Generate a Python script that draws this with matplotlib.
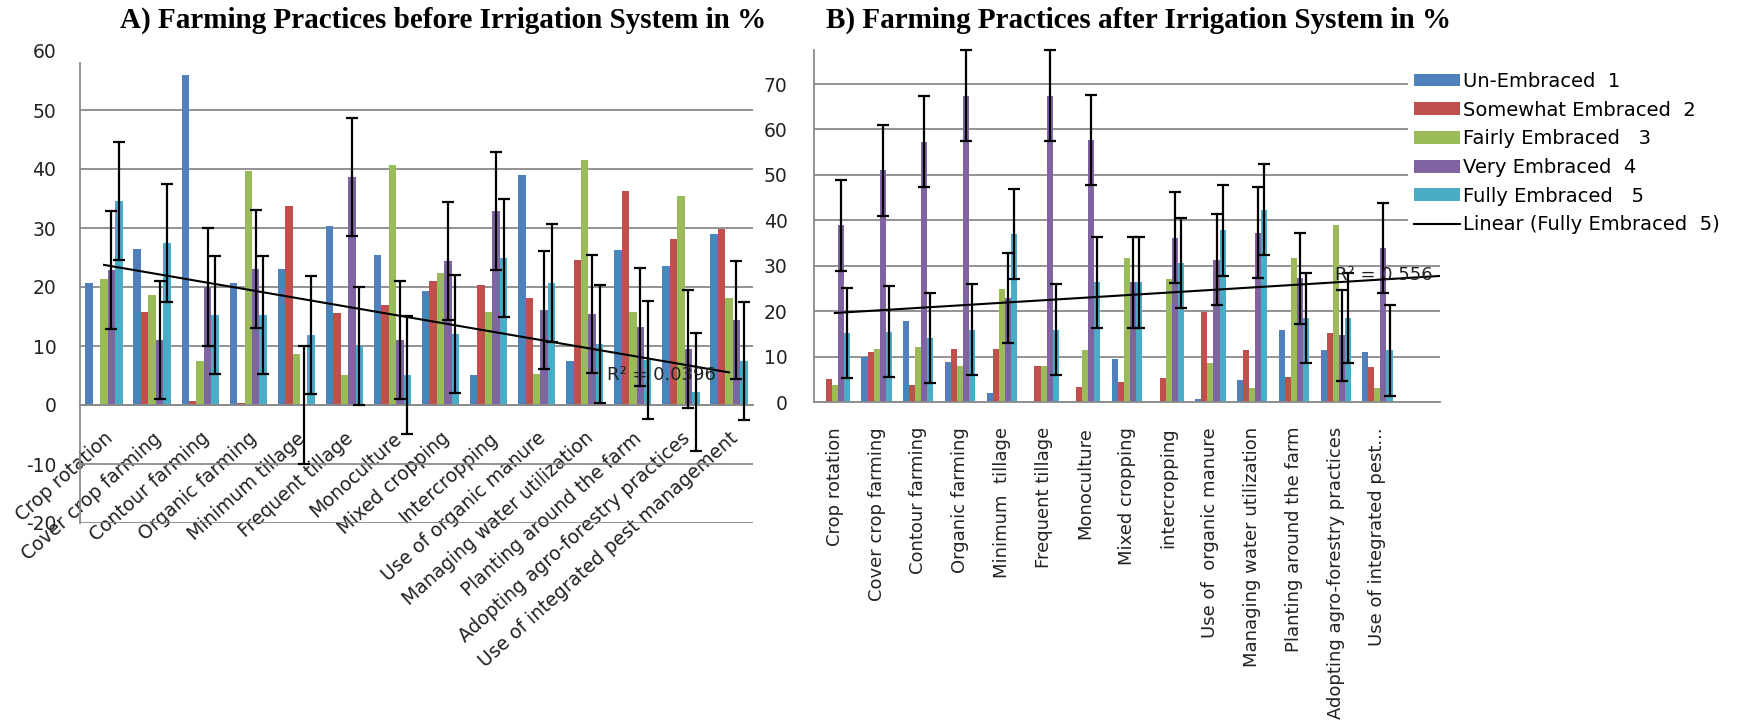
import numpy as np
import matplotlib
matplotlib.use("Agg")
import matplotlib.pyplot as plt
from matplotlib.patches import Patch
from matplotlib.lines import Line2D

# ---------------- data ----------------
cats_before = ["Crop rotation", "Cover crop farming", "Contour farming", "Organic farming",
               "Minimum tillage", "Frequent tillage", "Monoculture", "Mixed cropping",
               "Intercropping", "Use of organic manure", "Managing water utilization",
               "Planting around the farm", "Adopting agro-forestry practices",
               "Use of integrated pest management"]
cats_after = ["Crop rotation", "Cover crop farming", "Contour farming", "Organic farming",
              "Minimum  tillage", "Frequent tillage", "Monoculture", "Mixed cropping",
              "intercropping", "Use of  organic manure", "Managing water utilization",
              "Planting around the farm", "Adopting agro-forestry practices",
              "Use of integrated pest..."]

series_names = ["Un-Embraced  1", "Somewhat Embraced  2", "Fairly Embraced   3",
                "Very Embraced  4", "Fully Embraced   5"]
trend_name = "Linear (Fully Embraced  5)"

before_un     = [20.7, 26.5, 56.0, 20.7, 23.0, 30.3, 25.4, 19.3, 5.1, 38.9, 7.4, 26.2, 23.5, 29.0]
before_some   = [0.0, 15.8, 0.7, 0.4, 33.8, 15.6, 16.9, 21.0, 20.3, 18.1, 24.6, 36.2, 28.2, 29.8]
before_fairly = [21.3, 18.7, 7.5, 39.7, 8.6, 5.1, 40.6, 22.4, 15.7, 5.3, 41.5, 15.7, 35.4, 18.1]
before_very   = [22.8, 11.0, 20.0, 23.0, 0.0, 38.7, 11.1, 24.4, 32.8, 16.1, 15.4, 13.2, 9.5, 14.4]
before_fully  = [34.6, 27.4, 15.3, 15.3, 11.8, 10.0, 5.1, 12.1, 25.0, 20.7, 10.3, 7.7, 2.2, 7.4]

after_un      = [0.0, 10.0, 17.9, 8.7, 2.0, 0.0, 0.0, 9.5, 0.0, 0.7, 4.9, 15.9, 11.4, 10.9]
after_some    = [5.1, 11.0, 3.8, 11.7, 11.7, 8.0, 3.4, 4.5, 5.3, 19.9, 11.4, 5.6, 15.2, 7.7]
after_fairly  = [3.8, 11.7, 12.1, 8.0, 24.9, 8.0, 11.4, 31.6, 27.1, 8.6, 3.1, 31.6, 39.0, 3.1]
after_very    = [38.9, 51.0, 57.3, 67.4, 22.9, 67.4, 57.7, 26.4, 36.2, 31.3, 37.3, 27.2, 14.7, 33.9]
after_fully   = [15.2, 15.5, 14.1, 15.9, 37.0, 15.9, 26.4, 26.4, 30.6, 37.8, 42.3, 18.5, 18.5, 11.4]

error_margin = 10
r2_before = "R² = 0.0396"
r2_after = "R² = 0.556"

title_a = "A) Farming Practices before Irrigation System in %"
title_b = "B) Farming Practices after Irrigation System in %"

# ---------------- style ----------------
colors = ["#4F81BD", "#C0504D", "#9BBB59", "#8064A2", "#4BACC6"]
grid_c = "#8a8a8a"
W, H = 1739, 726
plt.rcParams['font.family'] = ['DejaVu Sans']
plt.rcParams['axes.unicode_minus'] = False

fig = plt.figure(figsize=(W / 100, H / 100), dpi=100)

def px_axes(x0, y_top, x1, y_bot):
    return fig.add_axes([x0 / W, (H - y_bot) / H, (x1 - x0) / W, (y_bot - y_top) / H])

def draw(ax, series, bw, ncat_slots, cats, ylim, yticks):
    n = len(cats)
    x = np.arange(n)
    for i, vals in enumerate(series):
        ax.bar(x + (i - 2) * bw, vals, width=bw, color=colors[i], zorder=2, linewidth=0)
    for i in (3, 4):
        eb = ax.errorbar(x + (i - 2) * bw, series[i], yerr=error_margin, fmt='none',
                         ecolor='black', elinewidth=1.6, capsize=4.2, capthick=1.6, zorder=5)
        for art in eb.lines[1] + eb.lines[2]:
            art.set_clip_on(False)
    ax.set_xlim(-0.5, ncat_slots - 0.5)
    ax.set_ylim(*ylim)
    ax.set_yticks(yticks)
    ax.set_axisbelow(True)
    ax.yaxis.grid(True, color=grid_c, linewidth=1.3)
    ax.xaxis.grid(False)
    for s in ("top", "right"):
        ax.spines[s].set_visible(False)
    ax.spines["left"].set_color(grid_c)
    ax.spines["left"].set_linewidth(1.3)
    ax.spines["bottom"].set_color(grid_c)
    ax.spines["bottom"].set_linewidth(1.3)
    ax.set_xticks(x)
    ax.tick_params(axis='both', length=0)
    fully = np.asarray(series[4])
    k, b = np.polyfit(x, fully, 1)
    return k, b

# ---------- left chart ----------
axL = px_axes(80, 51, 753, 523)
before = [before_un, before_some, before_fairly, before_very, before_fully]
k, b = draw(axL, before, 0.155, 14, cats_before, (-20, 60), list(range(-20, 61, 10)))
xs = np.array([0, 13])
axL.plot(xs, k * xs + b, color='black', lw=1.5, zorder=6)
axL.spines["left"].set_bounds(-20, 58)
axL.spines["bottom"].set_position(('data', 0))
for t, gl in zip(axL.get_yticks(), axL.yaxis.get_gridlines()):
    if t >= 60:
        gl.set_visible(False)
axL.tick_params(axis='y', pad=17, labelsize=13.5, labelcolor='#222222')
axL.set_xticklabels(cats_before, rotation=42, ha='right', va='top',
                    rotation_mode='anchor', fontsize=13.5, color='#222222')
axL.tick_params(axis='x', pad=17)
axL.text(11.6, 5.1, r2_before, ha='center', va='center', fontsize=13, color='#222222', zorder=7)

# ---------- right chart ----------
axR = px_axes(814, 50, 1440, 402)
after = [after_un, after_some, after_fairly, after_very, after_fully]
k2, b2 = draw(axR, after, 0.145, 15, cats_after, (0, 77.5), list(range(0, 71, 10)))
xs2 = np.array([0, 14.5])
axR.plot(xs2, k2 * xs2 + b2, color='black', lw=1.5, zorder=6)
axR.tick_params(axis='y', pad=19, labelsize=13.5, labelcolor='#222222')
axR.set_xticklabels(cats_after, rotation=90, ha='center', va='top', fontsize=13, color='#222222')
axR.tick_params(axis='x', pad=18)
axR.text(13.15, 28.0, r2_after, ha='center', va='center', fontsize=13, color='#222222', zorder=7)

handles = [Patch(facecolor=c, edgecolor='none') for c in colors] + \
          [Line2D([0], [0], color='black', lw=1.5)]
leg = axR.legend(handles, series_names + [trend_name], loc='upper left',
                 bbox_to_anchor=(1408 / W, 1 - 66 / H), bbox_transform=fig.transFigure,
                 frameon=True, fontsize=14, handlelength=2.35, handleheight=0.65,
                 handletextpad=0.2, labelspacing=0.5, borderaxespad=0, borderpad=0.3)
leg.get_frame().set_facecolor('white')
leg.get_frame().set_edgecolor('none')
leg.get_frame().set_alpha(1)
leg.set_zorder(10)

# ---------- titles ----------
fig.text(443 / W, 1 - 20 / H, title_a, ha='center', va='center', fontsize=21,
         fontweight='bold', family=['Liberation Serif'])
fig.text(1139 / W, 1 - 20 / H, title_b, ha='center', va='center', fontsize=21,
         fontweight='bold', family=['Liberation Serif'])

fig.savefig("out.png", dpi=100, facecolor='white')
